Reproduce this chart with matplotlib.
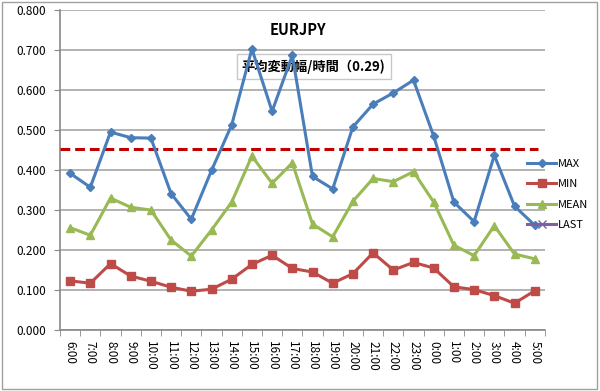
import matplotlib
matplotlib.use("Agg")
import matplotlib.pyplot as plt
from matplotlib.patches import Rectangle

plt.rcParams['font.family'] = ['Noto Sans CJK JP', 'DejaVu Sans']

# hours of the day
hours = ['6:00', '7:00', '8:00', '9:00', '10:00', '11:00', '12:00', '13:00',
         '14:00', '15:00', '16:00', '17:00', '18:00', '19:00', '20:00', '21:00',
         '22:00', '23:00', '0:00', '1:00', '2:00', '3:00', '4:00', '5:00']

max_vals = [0.392, 0.357, 0.495, 0.481, 0.480, 0.341, 0.277, 0.399,
            0.513, 0.703, 0.547, 0.687, 0.384, 0.353, 0.508, 0.565,
            0.593, 0.625, 0.485, 0.320, 0.271, 0.437, 0.310, 0.262]
min_vals = [0.123, 0.117, 0.166, 0.135, 0.122, 0.107, 0.097, 0.102,
            0.127, 0.164, 0.187, 0.154, 0.145, 0.117, 0.141, 0.193,
            0.150, 0.169, 0.155, 0.108, 0.101, 0.086, 0.067, 0.098]
mean_vals = [0.256, 0.237, 0.330, 0.307, 0.300, 0.225, 0.185, 0.250,
             0.320, 0.435, 0.367, 0.418, 0.265, 0.233, 0.322, 0.379,
             0.371, 0.396, 0.320, 0.212, 0.186, 0.261, 0.190, 0.178]
last_vals = []  # shown only in the legend

ref_level = 0.453
title = 'EURJPY'
note = '平均変動幅/時間（0.29)'

fig = plt.figure(figsize=(6, 3.91), dpi=100)
fig.patch.set_facecolor('white')
ax = fig.add_axes([0.1, 0.156, 0.808, 0.818])

x = list(range(len(hours)))
lw = 2.2
ax.plot(x, max_vals, color='#4A7EBB', lw=lw, marker='D', ms=4.5, label='MAX', zorder=5)
ax.plot(x, min_vals, color='#BE4B48', lw=lw, marker='s', ms=5.5, label='MIN', zorder=5)
ax.plot(x, mean_vals, color='#98B954', lw=lw, marker='^', ms=6, label='MEAN', zorder=5)
ax.plot(last_vals, last_vals, color='#7D60A0', lw=lw, marker='x', ms=6, label='LAST')
ax.axhline(ref_level, xmin=0, xmax=0.985, color='#C00000', lw=2.2, ls=(0, (3.2, 1.6)), zorder=4)

ax.set_xlim(-0.5, len(hours) - 0.5)
ax.set_ylim(0, 0.8)
ax.set_yticks([i / 10 for i in range(9)])
ax.set_yticklabels(['%.3f' % (i / 10) for i in range(9)], fontsize=8.5)
ax.set_xticks(x)
ax.set_xticklabels(hours, rotation=-90, fontsize=8.5)
ax.set_xticks([i - 0.5 for i in range(len(hours) + 1)], minor=True)
ax.tick_params(axis='x', which='major', length=0, pad=8)
ax.tick_params(axis='x', which='minor', length=4, color='#888888')
ax.tick_params(axis='y', length=4, color='#888888', pad=6)
ax.grid(axis='y', color='#A6A6A6', lw=1.2)
ax.set_axisbelow(True)
for s in ['top', 'right']:
    ax.spines[s].set_visible(False)
ax.spines['left'].set_color('#888888')
ax.spines['bottom'].set_color('#888888')
ax.spines['left'].set_linewidth(1.2)
ax.spines['bottom'].set_linewidth(1.2)

ax.text(0.497, 0.922, title, transform=fig.transFigure, ha='center', va='center',
        fontsize=10.5, fontweight='bold', clip_on=False)
# note box sits under the lines
ax.text(0.403, 0.83, note, transform=fig.transFigure, ha='left', va='center', fontsize=9.5,
        fontweight='bold', zorder=3, clip_on=False,
        bbox=dict(boxstyle='square,pad=0.4', fc='white', ec='#C8C8C8', lw=1))

leg = ax.legend(loc='upper left', bbox_to_anchor=(0.955, 0.55), frameon=False, fontsize=8,
                handlelength=2.6, handletextpad=0.1, labelspacing=0.95, borderaxespad=0)

fig.add_artist(Rectangle((0.003, 0.005), 0.992, 0.99, transform=fig.transFigure,
                         fill=False, ec='#A0A0A0', lw=1))

fig.savefig('out.png', dpi=100)
